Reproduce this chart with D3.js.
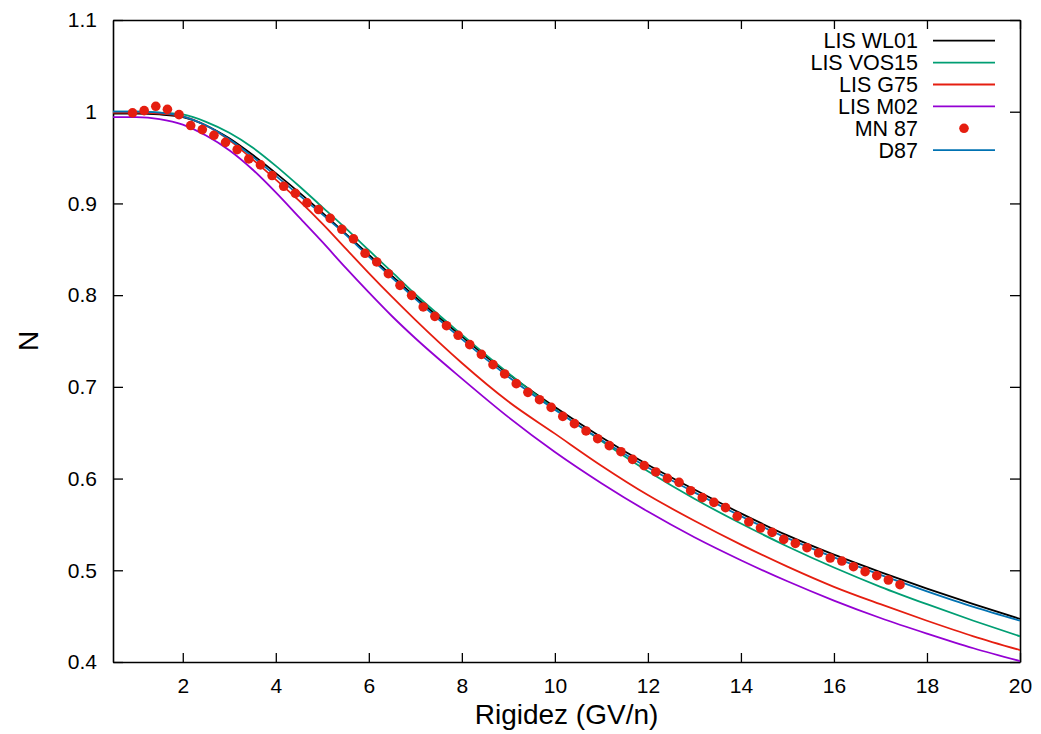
<!DOCTYPE html>
<html>
<head>
<meta charset="utf-8">
<script src="https://cdn.jsdelivr.net/npm/d3@7"></script>
<style>
  body { margin: 0; background: #fff; }
  text { font-family: "Liberation Sans", Arial, Helvetica, sans-serif; }
</style>
</head>
<body>
<script>
var width = 1041,
    height = 734;
var margin = {top: 20, right: 21, bottom: 72, left: 113};

// rigidez grid of the LIS curves (GV/n)
var rigidez = [0.5, 1, 1.5, 2, 2.5, 3, 3.5, 4, 4.5, 5, 5.5, 6, 6.5, 7,
               8, 9, 10, 11, 12, 13, 14, 15, 16, 17, 18, 19, 20];

var wl01  = [0.998, 0.998, 0.997, 0.994, 0.985, 0.971, 0.953, 0.933, 0.912, 0.890, 0.867, 0.844, 0.821, 0.798,
             0.755, 0.714, 0.678, 0.645, 0.615, 0.588, 0.562, 0.538, 0.517, 0.498, 0.480, 0.463, 0.447];
var vos15 = [1.000, 1.000, 0.999, 0.997, 0.989, 0.977, 0.961, 0.941, 0.919, 0.896, 0.873, 0.849, 0.825, 0.801,
             0.757, 0.715, 0.676, 0.641, 0.608, 0.578, 0.551, 0.526, 0.503, 0.482, 0.463, 0.445, 0.428];
var g75   = [0.999, 0.999, 0.998, 0.995, 0.985, 0.969, 0.948, 0.926, 0.903, 0.878, 0.851, 0.824, 0.798, 0.773,
             0.726, 0.684, 0.649, 0.614, 0.582, 0.554, 0.528, 0.504, 0.482, 0.463, 0.445, 0.428, 0.413];
var m02   = [0.994, 0.994, 0.992, 0.986, 0.974, 0.958, 0.937, 0.912, 0.885, 0.858, 0.830, 0.803, 0.777, 0.753,
             0.709, 0.667, 0.629, 0.595, 0.564, 0.536, 0.511, 0.488, 0.467, 0.448, 0.431, 0.415, 0.401];
var d87   = [1.000, 1.000, 0.999, 0.995, 0.985, 0.970, 0.951, 0.930, 0.909, 0.888, 0.866, 0.842, 0.819, 0.796,
             0.752, 0.711, 0.675, 0.642, 0.612, 0.585, 0.559, 0.535, 0.514, 0.495, 0.477, 0.460, 0.445];

// MN 87 measured points
var mnX = [0.92, 1.17, 1.42, 1.67, 1.92, 2.17, 2.42, 2.67, 2.92, 3.17, 3.42, 3.67, 3.92, 4.17, 4.42, 4.67,
           4.92, 5.17, 5.42, 5.67, 5.92, 6.17, 6.42, 6.67, 6.92, 7.17, 7.42, 7.67, 7.92, 8.17, 8.42, 8.67,
           8.92, 9.17, 9.42, 9.67, 9.92, 10.17, 10.42, 10.67, 10.92, 11.17, 11.42, 11.67, 11.92, 12.17,
           12.42, 12.67, 12.92, 13.17, 13.42, 13.67, 13.92, 14.17, 14.42, 14.67, 14.92, 15.17, 15.42,
           15.67, 15.92, 16.17, 16.42, 16.67, 16.92, 17.17, 17.42];
var mnY = [0.9987, 1.0012, 1.0059, 1.0026, 0.9968, 0.9849, 0.9805, 0.9743, 0.9666, 0.9587, 0.9485, 0.9420,
           0.9304, 0.9187, 0.9110, 0.9006, 0.8933, 0.8837, 0.8718, 0.8613, 0.8456, 0.8362, 0.8234, 0.8107,
           0.7998, 0.7871, 0.7769, 0.7667, 0.7562, 0.7460, 0.7354, 0.7242, 0.7141, 0.7035, 0.6940, 0.6860,
           0.6776, 0.6678, 0.6599, 0.6519, 0.6435, 0.6359, 0.6293, 0.6209, 0.6141, 0.6072, 0.6002, 0.5959,
           0.5868, 0.5792, 0.5740, 0.5683, 0.5588, 0.5527, 0.5461, 0.5413, 0.5337, 0.5293, 0.5246, 0.5189,
           0.5134, 0.5101, 0.5039, 0.4985, 0.4941, 0.4894, 0.4843];

var xTicks = [2, 4, 6, 8, 10, 12, 14, 16, 18, 20];
var yTicks = [0.4, 0.5, 0.6, 0.7, 0.8, 0.9, 1.0, 1.1];
var yTickLabels = ["0.4", "0.5", "0.6", "0.7", "0.8", "0.9", "1", "1.1"];

var series = [
  {name: "LIS WL01",  values: wl01,  color: "#000000"},
  {name: "LIS VOS15", values: vos15, color: "#009e73"},
  {name: "LIS G75",   values: g75,   color: "#e51e10"},
  {name: "LIS M02",   values: m02,   color: "#9400d3"},
  {name: "D87",       values: d87,   color: "#0072b2"}
];
var legendNames = ["LIS WL01", "LIS VOS15", "LIS G75", "LIS M02", "MN 87", "D87"];

var w = width - margin.left - margin.right,
    h = height - margin.top - margin.bottom;

var x = d3.scaleLinear().domain([0.5, 20]).range([0, w]);
var y = d3.scaleLinear().domain([0.4, 1.1]).range([h, 0]);

var svg = d3.select("body").append("svg")
    .attr("width", width)
    .attr("height", height)
  .append("g")
    .attr("transform", "translate(" + margin.left + "," + margin.top + ")");

svg.append("clipPath").attr("id", "clip")
  .append("rect").attr("width", w).attr("height", h);

// axes, ticks pointing inward, mirrored on top and right
var gx = svg.append("g").attr("transform", "translate(0," + h + ")")
    .call(d3.axisBottom(x).tickValues(xTicks).tickSize(-9).tickSizeOuter(0).tickPadding(16));
var gy = svg.append("g")
    .call(d3.axisLeft(y).tickValues(yTicks).tickFormat(function(d, i) { return yTickLabels[i]; })
      .tickSize(-10).tickSizeOuter(0).tickPadding(16));
var gt = svg.append("g")
    .call(d3.axisTop(x).tickValues(xTicks).tickSize(-9).tickSizeOuter(0).tickFormat(""));
var gr = svg.append("g").attr("transform", "translate(" + w + ",0)")
    .call(d3.axisRight(y).tickValues(yTicks).tickSize(-10).tickSizeOuter(0).tickFormat(""));

[gx, gy, gt, gr].forEach(function(g) {
  g.selectAll("path.domain").attr("stroke", "#000").attr("stroke-width", 1.6);
  g.selectAll(".tick line").attr("stroke", "#000").attr("stroke-width", 1.3);
  g.selectAll(".tick text").attr("font-size", 21).attr("fill", "#000")
    .style("font-family", "'Liberation Sans', Arial, sans-serif");
});

var line = d3.line()
    .x(function(d) { return x(d[0]); })
    .y(function(d) { return y(d[1]); })
    .curve(d3.curveMonotoneX);

var plot = svg.append("g").attr("clip-path", "url(#clip)");

series.forEach(function(s) {
  plot.append("path")
      .datum(rigidez.map(function(r, i) { return [r, s.values[i]]; }))
      .attr("fill", "none")
      .attr("stroke", s.color)
      .attr("stroke-width", 1.8)
      .attr("d", line);
});

plot.selectAll("circle.mn")
    .data(mnX.map(function(r, i) { return [r, mnY[i]]; }))
  .enter().append("circle")
    .attr("class", "mn")
    .attr("cx", function(d) { return x(d[0]); })
    .attr("cy", function(d) { return y(d[1]); })
    .attr("r", 4.8)
    .attr("fill", "#e51e10");

// legend
var legend = svg.append("g").attr("transform", "translate(" + (918 - margin.left) + "," + (40.7 - margin.top) + ")");
legendNames.forEach(function(name, i) {
  var row = legend.append("g").attr("transform", "translate(0," + (i * 21.9) + ")");
  row.append("text")
      .attr("text-anchor", "end")
      .attr("dy", "0.35em")
      .attr("font-size", 21.5)
      .text(name);
  if (name === "MN 87") {
    row.append("circle").attr("cx", 46).attr("cy", 0).attr("r", 4.8).attr("fill", "#e51e10");
  } else {
    var s = series.filter(function(d) { return d.name === name; })[0];
    row.append("line")
        .attr("x1", 15).attr("x2", 77)
        .attr("stroke", s.color).attr("stroke-width", 1.8);
  }
});

// axis titles
svg.append("text")
    .attr("x", w / 2)
    .attr("y", h + 62)
    .attr("text-anchor", "middle")
    .attr("font-size", 28)
    .text("Rigidez (GV/n)");

svg.append("text")
    .attr("transform", "translate(" + (38 - margin.left) + "," + (h / 2) + ") rotate(-90)")
    .attr("text-anchor", "middle")
    .attr("font-size", 28)
    .text("N");
</script>
</body>
</html>
